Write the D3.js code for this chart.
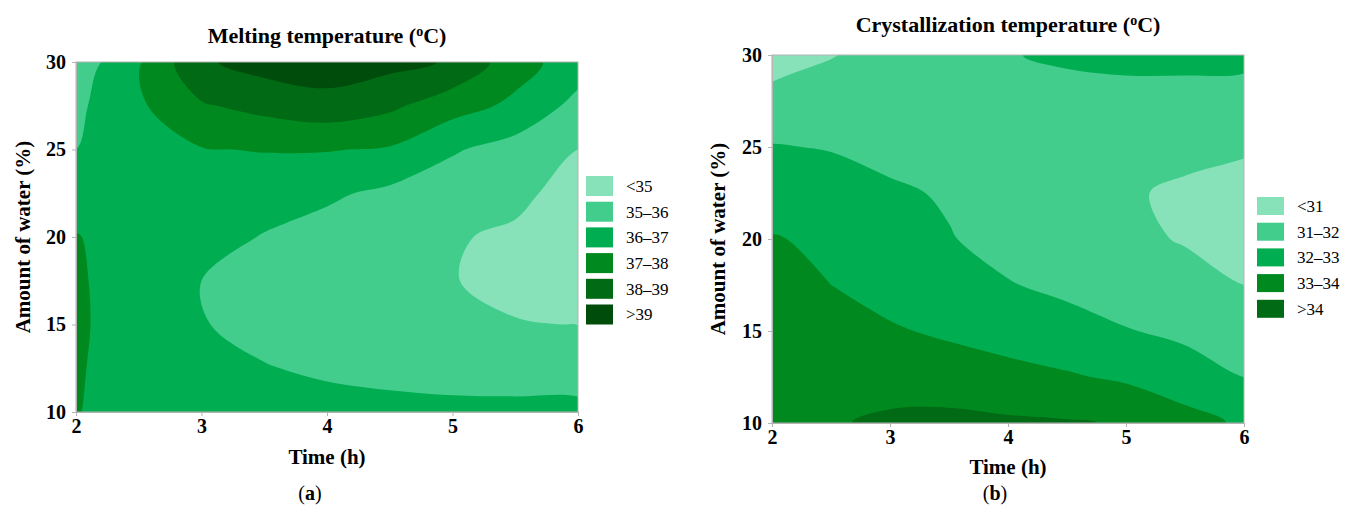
<!DOCTYPE html>
<html lang="en">

<head>
    <meta charset="utf-8">
    <script src="https://cdn.jsdelivr.net/npm/d3@7"></script>
    <style>
        body { margin: 0; background: #fff; }
        text { font-family: "Liberation Serif", "Times New Roman", serif; fill: #000; }
    </style>
</head>

<body>
    <div id="chart"></div>
    <script>
        // grid of the response surface
        var times = [2, 2.5, 3, 3.5, 4, 4.5, 5, 5.5, 6];
        var waters = [10, 12.5, 15, 17.5, 20, 22.5, 25, 27.5, 30];
        var timeTicks = [2, 3, 4, 5, 6];
        var waterTicks = [10, 15, 20, 25, 30];

        // melting temperature, one row per water level (10 -> 30), one column per time
        var meltRows = [
            [37.01, 36.9, 36.7, 36.5, 36.35, 36.3, 36.25, 36.25, 36.25],
            [37.08, 36.6, 36.4, 36.05, 35.85, 35.7, 35.6, 35.55, 35.55],
            [37.12, 36.6, 36.05, 35.7, 35.55, 35.4, 35.2, 35.03, 34.99],
            [37.1, 36.6, 36.0, 35.65, 35.45, 35.22, 35.02, 34.85, 34.7],
            [37.03, 36.7, 36.35, 35.95, 35.65, 35.35, 35.05, 34.9, 34.75],
            [36.7, 36.6, 36.5, 36.4, 36.15, 35.8, 35.45, 35.15, 34.75],
            [36.0, 36.5, 36.95, 37.05, 37.05, 36.9, 36.1, 35.6, 35.0],
            [35.8, 36.85, 37.9, 38.3, 38.6, 38.2, 37.4, 36.8, 35.7],
            [35.4, 36.9, 38.85, 39.4, 39.6, 39.3, 38.9, 37.4, 36.5]
        ];
        var meltThresholds = [35, 36, 37, 38, 39];
        var meltLabels = ["<35", "35\u201336", "36\u201337", "37\u201338", "38\u201339", ">39"];
        var meltColors = ["#87e2ba", "#42cd8c", "#00ad50", "#00891f", "#006a14", "#004d0b"];

        // crystallization temperature, same grid
        var crystRows = [
            [33.9, 33.92, 34.15, 34.25, 34.15, 34.08, 33.92, 33.35, 32.85],
            [33.85, 33.75, 33.65, 33.5, 33.3, 33.1, 32.85, 32.45, 32.0],
            [33.8, 33.45, 33.1, 32.85, 32.6, 32.35, 32.05, 31.8, 31.5],
            [33.5, 33.0, 32.65, 32.35, 32.05, 31.8, 31.5, 31.25, 31.0],
            [33.05, 32.85, 32.5, 32.05, 31.7, 31.4, 31.15, 30.95, 30.8],
            [32.58, 32.4, 32.15, 31.9, 31.6, 31.35, 31.1, 30.85, 30.7],
            [32.05, 31.95, 31.7, 31.55, 31.45, 31.4, 31.35, 31.25, 31.1],
            [31.35, 31.5, 31.5, 31.5, 31.55, 31.65, 31.75, 31.75, 31.7],
            [30.5, 30.95, 31.35, 31.65, 31.95, 32.15, 32.2, 32.2, 32.2]
        ];
        var crystThresholds = [31, 32, 33, 34];
        var crystLabels = ["<31", "31\u201332", "32\u201333", "33\u201334", ">34"];
        var crystColors = ["#87e2ba", "#42cd8c", "#00ad50", "#00891f", "#006a14"];

        var svg = d3.select("#chart")
            .append("svg")
            .attr("width", 1349)
            .attr("height", 508);

        function drawPanel(p) {
            var g = svg.append("g");
            var x = d3.scaleLinear().domain([2, 6]).range([p.x0, p.x1]);
            var y = d3.scaleLinear().domain([10, 30]).range([p.y1, p.y0]);
            var nx = times.length, ny = waters.length;
            var dt = times[1] - times[0], dw = waters[1] - waters[0];

            var clipId = "clip-" + p.id;
            g.append("clipPath").attr("id", clipId)
                .append("rect")
                .attr("x", p.x0).attr("y", p.y0)
                .attr("width", p.x1 - p.x0).attr("height", p.y1 - p.y0);

            var values = [].concat.apply([], p.rows);
            var contours = d3.contours().size([nx, ny]).thresholds(p.thresholds)(values);

            // grid coords -> pixels (d3.contours puts value i at i + 0.5)
            var line = d3.line()
                .curve(d3.curveCatmullRomClosed.alpha(0.5))
                .x(function(d) { return x(times[0] + (d[0] - 0.5) * dt); })
                .y(function(d) { return y(waters[0] + (d[1] - 0.5) * dw); });

            function pathOf(geom) {
                return geom.coordinates.map(function(poly) {
                    return poly.map(function(ring) { return line(ring.slice(0, -1)); }).join("");
                }).join("");
            }

            var area = g.append("g").attr("clip-path", "url(#" + clipId + ")");
            area.append("rect")
                .attr("x", p.x0).attr("y", p.y0)
                .attr("width", p.x1 - p.x0).attr("height", p.y1 - p.y0)
                .attr("fill", p.colors[0]);
            area.selectAll("path")
                .data(contours)
                .enter()
                .append("path")
                .attr("d", pathOf)
                .attr("fill-rule", "evenodd")
                .attr("fill", function(d, i) { return p.colors[i + 1]; });

            // frame
            g.append("rect")
                .attr("x", p.x0).attr("y", p.y0)
                .attr("width", p.x1 - p.x0).attr("height", p.y1 - p.y0)
                .attr("fill", "none").attr("stroke", "#b4b4b4");

            var xAxis = g.append("g")
                .attr("transform", "translate(0," + p.y1 + ")")
                .call(d3.axisBottom(x).tickValues(timeTicks).tickSize(4).tickPadding(3).tickFormat(d3.format("d")));
            var yAxis = g.append("g")
                .attr("transform", "translate(" + p.x0 + ",0)")
                .call(d3.axisLeft(y).tickValues(waterTicks).tickSize(4).tickPadding(6).tickFormat(d3.format("d")));
            [xAxis, yAxis].forEach(function(a) {
                a.select(".domain").attr("stroke", "#b4b4b4");
                a.selectAll(".tick line").attr("stroke", "#b4b4b4");
                a.selectAll(".tick text")
                    .style("font-family", "'Liberation Serif', serif")
                    .style("font-size", "20px").style("font-weight", "bold").attr("fill", "#000");
            });

            var cx = (p.x0 + p.x1) / 2;
            var title = g.append("text")
                .attr("x", cx).attr("y", p.titleY)
                .attr("text-anchor", "middle")
                .style("font-size", "22px").style("font-weight", "bold");
            title.append("tspan").text(p.title + " (");
            title.append("tspan").text("o").style("font-size", "14px").attr("dy", -7);
            title.append("tspan").text("C)").attr("dy", 7);

            g.append("text")
                .attr("x", cx).attr("y", p.xLabelY)
                .attr("text-anchor", "middle")
                .style("font-size", "21px").style("font-weight", "bold")
                .text("Time (h)");

            g.append("text")
                .attr("transform", "translate(" + p.yLabelX + "," + (p.y0 + p.y1) / 2 + ") rotate(-90)")
                .attr("text-anchor", "middle")
                .style("font-size", "21px").style("font-weight", "bold")
                .text("Amount of water (%)");

            var tag = g.append("text")
                .attr("x", p.tagX).attr("y", 500)
                .attr("text-anchor", "middle")
                .style("font-size", "20px");
            tag.append("tspan").text("(");
            tag.append("tspan").text(p.tag).style("font-weight", "bold");
            tag.append("tspan").text(")");

            // legend
            var leg = g.selectAll(".leg")
                .data(p.labels)
                .enter()
                .append("g")
                .attr("transform", function(d, i) { return "translate(" + p.legX + "," + (p.legY + i * 25.7) + ")"; });
            leg.append("rect")
                .attr("width", 27).attr("height", p.swH)
                .attr("fill", function(d, i) { return p.colors[i]; });
            leg.append("text")
                .attr("x", 40).attr("y", p.swH / 2)
                .attr("dy", "0.35em")
                .style("font-size", "17px")
                .text(function(d) { return d; });
        }

        drawPanel({
            id: "a", rows: meltRows, thresholds: meltThresholds, colors: meltColors, labels: meltLabels,
            x0: 76, x1: 578, y0: 62, y1: 412,
            title: "Melting temperature", titleY: 43, xLabelY: 464, yLabelX: 30, tag: "a", tagX: 310,
            legX: 586, legY: 176, swH: 20
        });
        drawPanel({
            id: "b", rows: crystRows, thresholds: crystThresholds, colors: crystColors, labels: crystLabels,
            x0: 772, x1: 1244, y0: 55, y1: 423,
            title: "Crystallization temperature", titleY: 32, xLabelY: 474, yLabelX: 725, tag: "b", tagX: 995,
            legX: 1257, legY: 197, swH: 18
        });
    </script>
</body>

</html>
